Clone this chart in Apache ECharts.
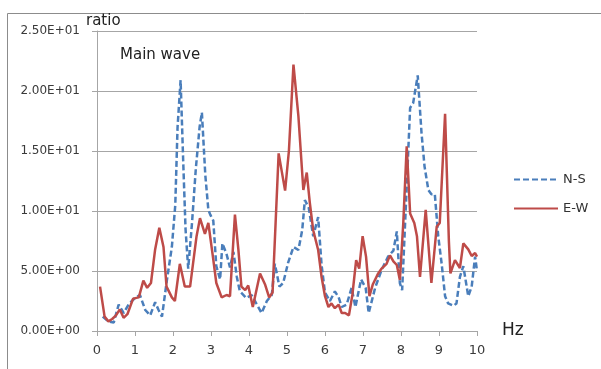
<!DOCTYPE html>
<html>
<head>
<meta charset="utf-8">
<script src="https://cdn.jsdelivr.net/npm/echarts@6/dist/echarts.min.js"></script>
<style>
  html, body { margin: 0; padding: 0; background: #fff; }
  #chart { width: 601px; height: 369px; }
</style>
</head>
<body>
<div id="chart"></div>
<script>
// N-S / E-W spectral ratio (Hz, ratio)
var nsHz  = [0.15,0.3,0.44,0.57,0.7,0.85,1.0,1.13,1.27,1.4,1.53,1.62,1.71,1.84,1.97,2.06,2.12,2.2,2.27,2.33,2.4,2.5,2.6,2.7,2.76,2.85,2.93,2.98,3.06,3.14,3.24,3.3,3.41,3.5,3.59,3.68,3.76,3.93,4.07,4.2,4.33,4.47,4.6,4.68,4.8,4.9,5.03,5.17,5.3,5.4,5.47,5.57,5.69,5.82,5.91,6.0,6.13,6.26,6.36,6.44,6.57,6.7,6.8,6.95,7.07,7.15,7.32,7.49,7.66,7.8,7.89,7.97,8.03,8.15,8.24,8.32,8.44,8.54,8.62,8.72,8.8,8.89,8.98,9.07,9.16,9.24,9.38,9.46,9.55,9.64,9.77,9.86,9.95,10.0];
var nsVal = [1.2,0.8,0.7,2.2,1.5,2.3,2.75,3.0,1.75,1.3,2.4,1.75,1.2,4.25,7.0,10.5,17.0,20.9,14.0,8.5,5.2,9.0,13.5,17.0,18.2,13.0,10.1,9.7,9.2,5.4,4.3,7.3,6.4,5.3,6.6,4.5,3.3,2.75,3.0,2.25,1.5,2.5,3.0,5.6,3.7,4.0,5.7,7.0,6.75,8.4,10.9,10.3,7.9,9.5,5.5,3.2,2.5,3.3,2.8,2.0,2.2,3.6,2.0,4.3,3.6,1.5,3.6,5.1,6.2,6.7,8.3,4.0,3.4,12.0,18.6,19.0,21.3,16.5,13.7,11.75,11.4,11.4,7.9,5.6,2.9,2.3,2.1,2.3,4.5,5.4,2.9,3.7,6.2,5.0];

var ewHz  = [0.08,0.2,0.3,0.4,0.5,0.6,0.7,0.8,0.95,1.1,1.22,1.32,1.42,1.53,1.64,1.75,1.83,1.97,2.05,2.18,2.31,2.45,2.62,2.71,2.84,2.93,3.05,3.14,3.28,3.41,3.5,3.63,3.72,3.8,3.9,3.98,4.1,4.29,4.42,4.53,4.62,4.7,4.78,4.95,5.05,5.17,5.3,5.43,5.52,5.6,5.69,5.82,5.91,6.0,6.09,6.17,6.26,6.36,6.44,6.53,6.63,6.72,6.82,6.9,6.99,7.08,7.17,7.26,7.4,7.49,7.62,7.71,7.8,7.89,7.97,8.06,8.15,8.24,8.35,8.42,8.5,8.65,8.8,8.94,9.02,9.16,9.26,9.3,9.42,9.55,9.64,9.77,9.86,9.95,10.0];
var ewVal = [3.7,1.2,0.8,1.0,1.3,1.8,1.1,1.4,2.7,2.8,4.2,3.6,4.0,6.8,8.6,7.0,3.7,2.8,2.5,5.6,3.7,3.7,7.9,9.4,8.1,9.0,6.2,4.0,2.8,3.0,2.9,9.7,6.8,3.7,3.4,3.8,2.0,4.8,3.9,2.8,3.2,9.0,14.8,11.7,15.0,22.2,17.9,11.75,13.2,10.7,8.4,6.75,4.5,2.9,2.0,2.3,1.9,2.2,1.5,1.5,1.3,3.0,5.9,5.2,7.9,6.2,2.9,3.9,4.8,5.2,5.6,6.3,5.8,5.5,4.25,9.0,15.4,9.8,9.0,7.9,4.5,10.1,4.0,8.7,9.0,18.1,7.5,4.8,5.9,5.25,7.3,6.8,6.25,6.5,6.2];

var yTicks = [0, 5, 10, 15, 20, 25];
var yTickLabels = ['0.00E+00', '5.00E+00', '1.00E+01', '1.50E+01', '2.00E+01', '2.50E+01'];

function pairs(xs, ys) {
    var out = [];
    for (var i = 0; i < xs.length; i++) out.push([xs[i], ys[i]]);
    return out;
}

var myChart = echarts.init(document.getElementById('chart'));
var font = 'DejaVu Sans';
option = {
    animation: false,
    textStyle: { fontFamily: font },
    title: {
        text: 'Main wave',
        left: 115,
        top: 43,
        textStyle: { fontFamily: font, fontSize: 15, fontWeight: 'normal', color: '#222' }
    },
    legend: {
        orient: 'vertical',
        left: 508,
        top: 168,
        itemWidth: 44,
        itemHeight: 14,
        itemGap: 16,
        itemStyle: { opacity: 0 },
        textStyle: { fontFamily: font, fontSize: 13, color: '#333' },
        data: ['N-S', 'E-W']
    },
    grid: { left: 97, right: 124, top: 31, bottom: 38, containLabel: false },
    xAxis: {
        type: 'value',
        min: 0,
        max: 10,
        interval: 1,
        name: 'Hz',
        nameLocation: 'end',
        nameGap: 25,
        nameTextStyle: { fontFamily: font, fontSize: 17, color: '#222', padding: [0, 0, 6, 0] },
        axisLine: { show: true, lineStyle: { color: '#a6a6a6', width: 1 } },
        axisTick: { show: true, inside: false, length: 5, lineStyle: { color: '#a6a6a6' } },
        axisLabel: { fontFamily: font, fontSize: 13, color: '#3a3a3a', margin: 13 },
        splitLine: { show: false }
    },
    yAxis: {
        type: 'value',
        min: 0,
        max: 25,
        interval: 5,
        name: 'ratio',
        nameLocation: 'end',
        nameGap: 2,
        nameTextStyle: { fontFamily: font, fontSize: 15, color: '#222', align: 'left', padding: [0, 0, 0, -11] },
        axisLine: { show: true, lineStyle: { color: '#a6a6a6', width: 1 } },
        axisTick: { show: true, length: 5, lineStyle: { color: '#a6a6a6' } },
        axisLabel: {
            fontFamily: font, fontSize: 12, color: '#3a3a3a', margin: 17,
            formatter: function (v) { return yTickLabels[yTicks.indexOf(v)]; }
        },
        splitLine: { show: true, lineStyle: { color: '#a6a6a6', width: 1 } }
    },
    graphic: [{
        type: 'polyline',
        shape: { points: [[7.5, 369], [7.5, 13.5], [601, 13.5]] },
        style: { stroke: '#8c8c8c', lineWidth: 1, fill: null },
        silent: true
    }],
    series: [
        {
            name: 'N-S',
            type: 'line',
            data: pairs(nsHz, nsVal),
            symbol: 'none',
            lineStyle: { color: '#4a7ebb', width: 2.5, type: [6, 3] },
            itemStyle: { color: '#4a7ebb' },
            z: 2
        },
        {
            name: 'E-W',
            type: 'line',
            data: pairs(ewHz, ewVal),
            symbol: 'none',
            lineStyle: { color: '#be4b48', width: 2.5 },
            itemStyle: { color: '#be4b48' },
            z: 3
        }
    ]
};
myChart.setOption(option);
</script>
</body>
</html>
